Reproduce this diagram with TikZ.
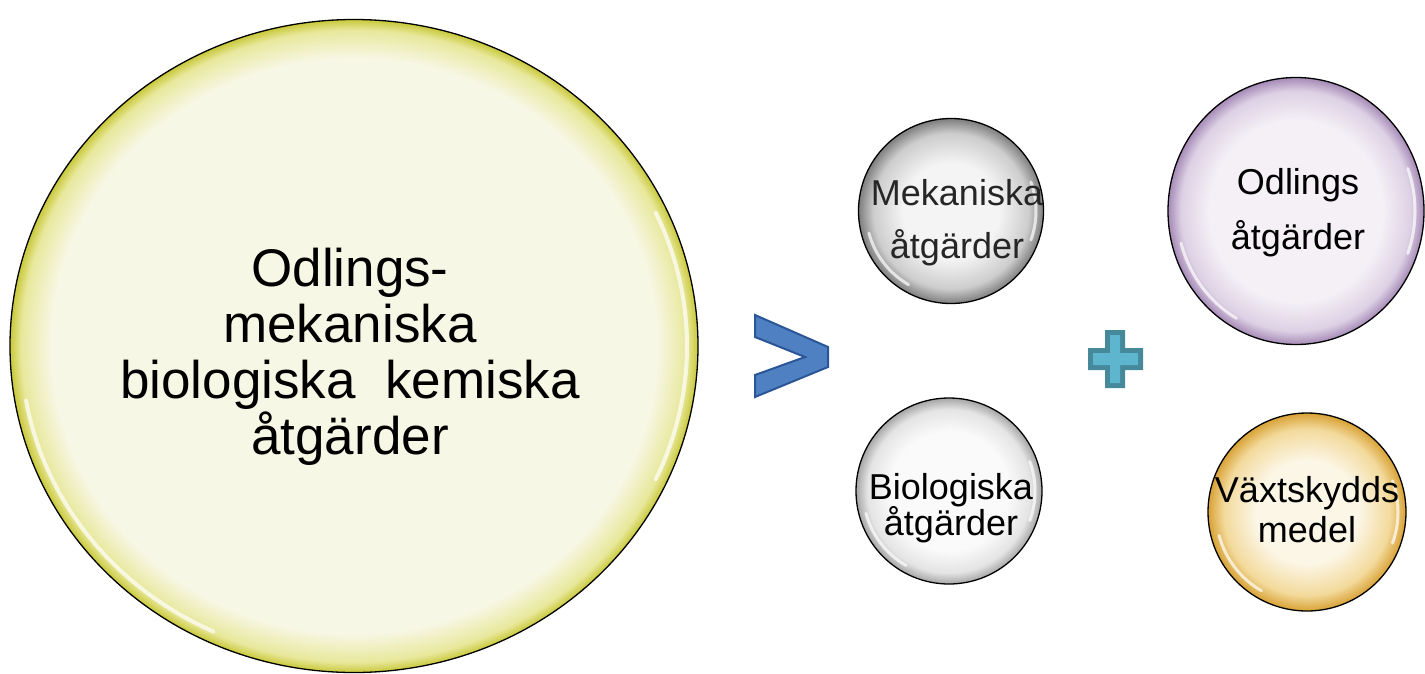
\documentclass[tikz,border=0pt]{standalone}
\usepackage{fontspec}
\setmainfont{Liberation Sans}
\usetikzlibrary{shapes.geometric,calc}

% ball colours
\definecolor{ycore}{HTML}{F7F7E6}
\definecolor{ymid}{HTML}{E8E89C}
\definecolor{yrim}{HTML}{C8C83A}
\definecolor{gcore}{HTML}{F4F4F4}
\definecolor{gmid}{HTML}{CDCDCD}
\definecolor{grim}{HTML}{7E7E7E}
\definecolor{wcore}{HTML}{FAFAFA}
\definecolor{wmid}{HTML}{E4E4E4}
\definecolor{wrim}{HTML}{A6A6A6}
\definecolor{pcore}{HTML}{F4F0F6}
\definecolor{pmid}{HTML}{DDD0E4}
\definecolor{prim}{HTML}{A58AB6}
\definecolor{ocore}{HTML}{FCF6E6}
\definecolor{omid}{HTML}{F3DA9C}
\definecolor{orim}{HTML}{D8A236}
\definecolor{chevfill}{HTML}{4F81C2}
\definecolor{chevline}{HTML}{2A5698}
\definecolor{plusdark}{HTML}{45899B}
\definecolor{pluslight}{HTML}{5DB6CE}

% radial shadings: the shaded path's rim sits at 25bp
\pgfdeclareradialshading{yellowball}{\pgfpointorigin}{color(0bp)=(ycore); color(22bp)=(ycore); color(24.2bp)=(ymid); color(25bp)=(yrim); color(50bp)=(yrim)}
\pgfdeclareradialshading{grayball}{\pgfpointorigin}{color(0bp)=(gcore); color(13bp)=(gcore); color(21bp)=(gmid); color(25bp)=(grim); color(50bp)=(grim)}
\pgfdeclareradialshading{whiteball}{\pgfpointorigin}{color(0bp)=(wcore); color(16bp)=(wcore); color(22bp)=(wmid); color(25bp)=(wrim); color(50bp)=(wrim)}
\pgfdeclareradialshading{purpleball}{\pgfpointorigin}{color(0bp)=(pcore); color(17bp)=(pcore); color(22.5bp)=(pmid); color(25bp)=(prim); color(50bp)=(prim)}
\pgfdeclareradialshading{orangeball}{\pgfpointorigin}{color(0bp)=(ocore); color(13bp)=(ocore); color(21bp)=(omid); color(25bp)=(orim); color(50bp)=(orim)}

\tikzset{
  ball/.style={draw=black, line width=1.3pt, inner sep=0pt, shade},
  gloss/.style={draw=white, line width=3pt, line cap=round, opacity=0.7},
  lbl/.style={inner sep=0pt, anchor=base, text=black},
  bigfont/.style={font=\fontsize{53}{56}\selectfont},
  smallfont/.style={font=\fontsize{36}{40}\selectfont},
}

\begin{document}
\begin{tikzpicture}[x=1pt, y=-1pt]
\useasboundingbox (0,0) rectangle (1425,673);

% ---- balls ----
\node[ball, ellipse, shading=yellowball, minimum width=688pt, minimum height=653pt] (big) at (354,346) {};
\node[ball, circle, shading=grayball, minimum size=185pt] (mek) at (951,211) {};
\node[ball, circle, shading=whiteball, minimum size=186pt] (bio) at (949,491) {};
\node[ball, ellipse, shading=purpleball, minimum width=256pt, minimum height=267pt] (odl) at (1296,211) {};
\node[ball, circle, shading=orangeball, minimum size=198pt] (vax) at (1307,512) {};

% ---- glossy rim reflections ----
\draw[gloss, line width=4pt] ($(big.center)+(115:333 and 315)$) arc[start angle=115, end angle=170, x radius=333, y radius=315];
\draw[gloss, line width=4pt] ($(big.center)+(-25:333 and 315)$) arc[start angle=-25, end angle=25, x radius=333, y radius=315];
\foreach \n/\r in {mek/85, bio/86, vax/91}{
  \draw[gloss] ($(\n.center)+(120:\r)$) arc[start angle=120, end angle=165, radius=\r];
  \draw[gloss] ($(\n.center)+(-20:\r)$) arc[start angle=-20, end angle=20, radius=\r];
}
\draw[gloss] ($(odl.center)+(120:119 and 124)$) arc[start angle=120, end angle=165, x radius=119, y radius=124];
\draw[gloss] ($(odl.center)+(-20:119 and 124)$) arc[start angle=-20, end angle=20, x radius=119, y radius=124];

% ---- labels ----
\node[lbl, bigfont] (b1) at (350,286) {Odlings-};
\node[lbl, bigfont] (b2) at (350,342) {mekaniska};
\node[lbl, bigfont] (b3) at (350,398) {biologiska~~kemiska};
\node[lbl, bigfont] (b4) at (350,454) {åtgärder};

\node[lbl, smallfont, text=black!85] (m1) at (957,205) {Mekaniska};
\node[lbl, smallfont, text=black!85] (m2) at (957,258) {åtgärder};

\node[lbl, smallfont] (o1) at (1298,194) {Odlings};
\node[lbl, smallfont] (o2) at (1298,249) {åtgärder};

\node[lbl, smallfont] (bi1) at (951,499) {Biologiska};
\node[lbl, smallfont] (bi2) at (951,535) {åtgärder};

\node[lbl, smallfont] (v1) at (1307,502) {Växtskydds};
\node[lbl, smallfont] (v2) at (1307,542) {medel};

% ---- chevron ----
\coordinate (c1) at (755,315);
\coordinate (c2) at (828,347);
\coordinate (c3) at (828,367);
\coordinate (c4) at (755,397);
\coordinate (c5) at (755,375);
\coordinate (c6) at (805,357);
\coordinate (c7) at (755,337);
\fill[black, opacity=0.18, xshift=3pt, yshift=-3pt] (c1) -- (c2) -- (c3) -- (c4) -- (c5) -- (c6) -- (c7) -- cycle;
\draw[fill=chevfill, draw=chevline, line width=2pt, line join=miter] (c1) -- (c2) -- (c3) -- (c4) -- (c5) -- (c6) -- (c7) -- cycle;

% ---- plus ----
\fill[plusdark] (1105,330) -- (1125,330) -- (1125,348) -- (1143,348) -- (1143,370) -- (1125,370) -- (1125,388) -- (1105,388) -- (1105,370) -- (1088,370) -- (1088,348) -- (1105,348) -- cycle;
\fill[pluslight] (1110,335) -- (1120,335) -- (1120,353) -- (1138,353) -- (1138,365) -- (1120,365) -- (1120,383) -- (1110,383) -- (1110,365) -- (1093,365) -- (1093,353) -- (1110,353) -- cycle;
\end{tikzpicture}
\end{document}
